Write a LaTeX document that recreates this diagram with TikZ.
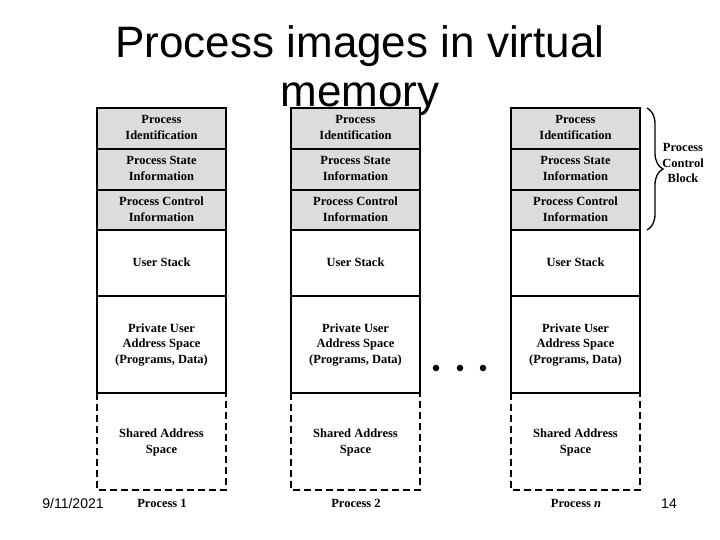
\documentclass[tikz,border=0pt]{standalone}
\usepackage{fontspec}
\setmainfont{Liberation Serif}
\newfontfamily\titlefont{Liberation Sans}
\usetikzlibrary{decorations.pathreplacing}
\definecolor{cellgray}{RGB}{220,220,220}
\tikzset{
  celltext/.style={font=\fontsize{12.5}{15.5}\selectfont\bfseries},
  cell/.style={draw=black, line width=1.8pt, inner sep=0pt, minimum width=129pt,
    align=center, celltext, text depth=2pt},
  pcb/.style={cell, fill=cellgray},
  plain/.style={cell, fill=white},
  shared/.style={cell, draw=none, fill=white},
  dashline/.style={line width=1.8pt, dash pattern=on 7pt off 4pt},
  plabel/.style={celltext, anchor=base},
  dot/.style={circle, fill=black, inner sep=0pt, minimum size=6.5pt},
  footer/.style={font=\titlefont\fontsize{14}{16}\selectfont, anchor=base}
}
\begin{document}
\begin{tikzpicture}[x=1pt, y=-1pt]
\useasboundingbox (0,0) rectangle (720,540);
% title
\node[font=\titlefont\fontsize{44}{50}\selectfont, anchor=base] (title1) at (360,58) {Process images in virtual};
\node[font=\titlefont\fontsize{44}{50}\selectfont, anchor=base] (title2) at (360,107) {memory};
% columns
\foreach \i/\L in {1/97, 2/291, 3/511} {
  \pgfmathsetmacro{\cx}{\L+64.5}
  \node[shared, minimum height=98pt] (sh\i) at (\cx,442) {Shared Address\\Space};
  \draw[dashline] (\L,393) -- (\L,490) -- (\L+129,490) -- (\L+129,393);
  \node[pcb, minimum height=41pt] (pid\i) at (\cx,128.5) {Process\\Identification};
  \node[pcb, minimum height=41pt] (psi\i) at (\cx,169.5) {Process State\\Information};
  \node[pcb, minimum height=40pt] (pci\i) at (\cx,210) {Process Control\\Information};
  \node[plain, minimum height=66pt] (us\i) at (\cx,263) {User Stack};
  \node[plain, minimum height=97pt] (pu\i) at (\cx,344.5) {Private User\\Address Space\\(Programs, Data)};
}
\node[plabel] (lab1) at (162,507) {Process 1};
\node[plabel] (lab2) at (356,507) {Process 2};
\node[plabel] (lab3) at (576,507) {Process \textit{n}};
% dots
\node[dot] (d1) at (436,368) {};
\node[dot] (d2) at (460,368) {};
\node[dot] (d3) at (483,368) {};
% brace
\coordinate (bt) at (647,108);
\coordinate (bb) at (647,230);
\draw[line width=1.3pt, decoration={brace, amplitude=16pt}, decorate] (bt) -- (bb);
\node[celltext, align=center] (pcbl) at (683,163) {Process\\Control\\Block};
% footer
\node[footer] (date) at (73,508) {9/11/2021};
\node[footer] (page) at (669,508) {14};
\end{tikzpicture}
\end{document}
